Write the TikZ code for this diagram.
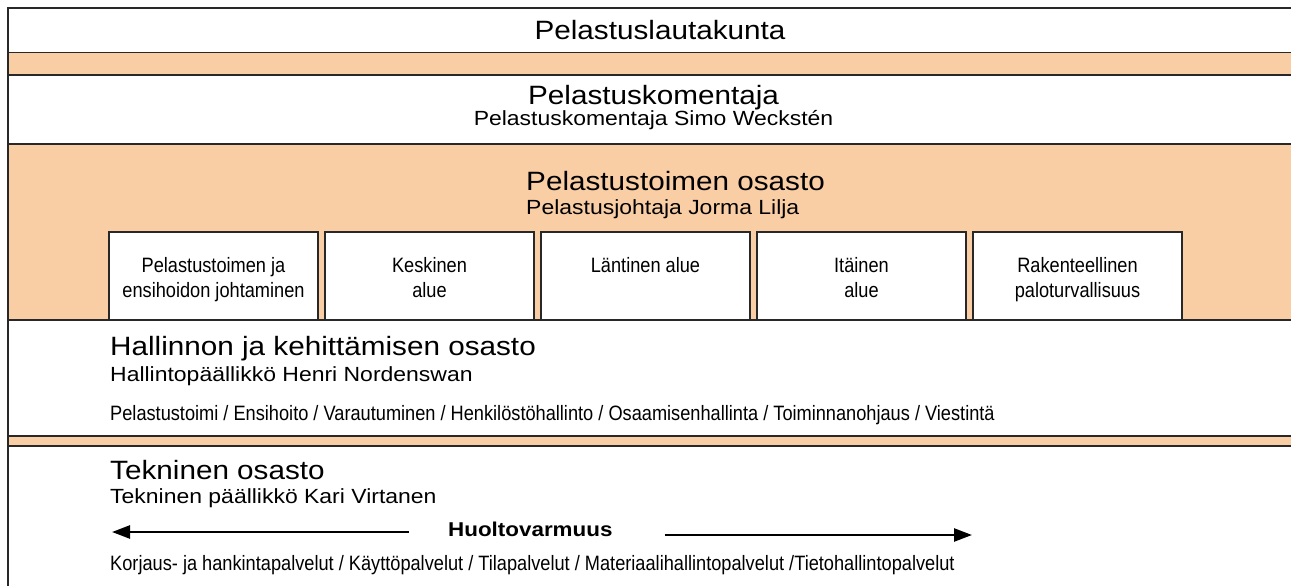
\documentclass[tikz,border=0pt]{standalone}
\usepackage{fontspec}
\setmainfont{Liberation Sans}
\newfontfamily\widefont[FakeStretch=1.12]{Liberation Sans}
\newfontfamily\narrowfont[FakeStretch=0.875]{Liberation Sans}
\usetikzlibrary{positioning,arrows.meta}
\definecolor{peach}{RGB}{250,206,165}
\definecolor{edge}{RGB}{40,40,40}

\begin{document}
\begin{tikzpicture}[x=1pt, y=-1pt,
        frame/.style={draw=edge, line width=1.5pt, inner sep=0pt, outer sep=0pt, anchor=north west},
        whitebox/.style={frame, fill=white, minimum width=1304pt},
        unitbox/.style={frame, fill=white, minimum width=209pt, minimum height=88pt},
        title/.style={font=\widefont\fontsize{26.5}{30}\selectfont, inner sep=0pt},
        person/.style={font=\widefont\fontsize{20.5}{24}\selectfont, inner sep=0pt},
        small/.style={font=\narrowfont\fontsize{20.8}{25}\selectfont, inner sep=0pt},
        unittext/.style={small, align=center},
        bigarrow/.style={-{Triangle[length=18pt, width=13pt]}, line width=2.5pt}]
        \useasboundingbox (0,0) rectangle (1291,586);
        \clip (0,0) rectangle (1291,586);
        % frame and white bands
        \node[frame, fill=peach, minimum width=1304pt, minimum height=600pt] (bg) at (8,8) {};
        \node[whitebox, minimum height=44.5pt] (lautakunta) at (8,8) {};
        \node[whitebox, minimum height=69pt] (komentaja) at (8,75) {};
        \node[whitebox, minimum height=116pt] (hallinto) at (8,320) {};
        \node[whitebox, minimum height=160pt] (tekninen) at (8,446) {};
        % units of the rescue department
        \node[unitbox] (u1) at (109,232) {};
        \node[unitbox, right=7pt of u1] (u2) {};
        \node[unitbox, right=7pt of u2] (u3) {};
        \node[unitbox, right=7pt of u3] (u4) {};
        \node[unitbox, right=7pt of u4] (u5) {};
        \node[unittext, below=25.5pt of u1.north] (l1) {Pelastustoimen ja\\ensihoidon johtaminen};
        \node[unittext, below=25.5pt of u2.north] (l2) {Keskinen\\alue};
        \node[unittext, below=25.5pt of u3.north] (l3) {Läntinen alue};
        \node[unittext, below=25.5pt of u4.north] (l4) {Itäinen\\alue};
        \node[unittext, below=25.5pt of u5.north] (l5) {Rakenteellinen\\paloturvallisuus};
        % texts
        \node[title, anchor=base] (t-lautakunta) at (660,39.3) {Pelastuslautakunta};
        \node[title, anchor=base] (t-komentaja) at (653.5,104.3) {Pelastuskomentaja};
        \node[person, anchor=base] (p-komentaja) at (653.5,125.5) {Pelastuskomentaja Simo Weckstén};
        \node[title, anchor=base west] (t-pelastus) at (526,190) {Pelastustoimen osasto};
        \node[person, anchor=base west] (p-pelastus) at (526,214) {Pelastusjohtaja Jorma Lilja};
        \node[title, anchor=base west] (t-hallinto) at (110,355.7) {Hallinnon ja kehittämisen osasto};
        \node[person, anchor=base west] (p-hallinto) at (110,381) {Hallintopäällikkö Henri Nordenswan};
        \node[small, anchor=base west] (s-hallinto) at (110,420) {Pelastustoimi / Ensihoito / Varautuminen / Henkilöstöhallinto / Osaamisenhallinta / Toiminnanohjaus / Viestintä};
        \node[title, anchor=base west] (t-tekninen) at (110,479.3) {Tekninen osasto};
        \node[person, anchor=base west] (p-tekninen) at (110,503.3) {Tekninen päällikkö Kari Virtanen};
        \node[font=\widefont\bfseries\fontsize{20}{24}\selectfont, inner sep=0pt, anchor=base west] (huolto) at (448,536.7) {Huoltovarmuus};
        \node[small, anchor=base west] (s-tekninen) at (110,570) {Korjaus- ja hankintapalvelut / Käyttöpalvelut / Tilapalvelut / Materiaalihallintopalvelut /Tietohallintopalvelut};
        % arrows
        \coordinate (hv-left) at (112,532);
        \coordinate (hv-right) at (972,535);
        \draw[bigarrow] ([xshift=-39pt]huolto.west |- hv-left) -- (hv-left);
        \draw[bigarrow] ([xshift=52pt]huolto.east |- hv-right) -- (hv-right);
    \end{tikzpicture}
\end{document}
